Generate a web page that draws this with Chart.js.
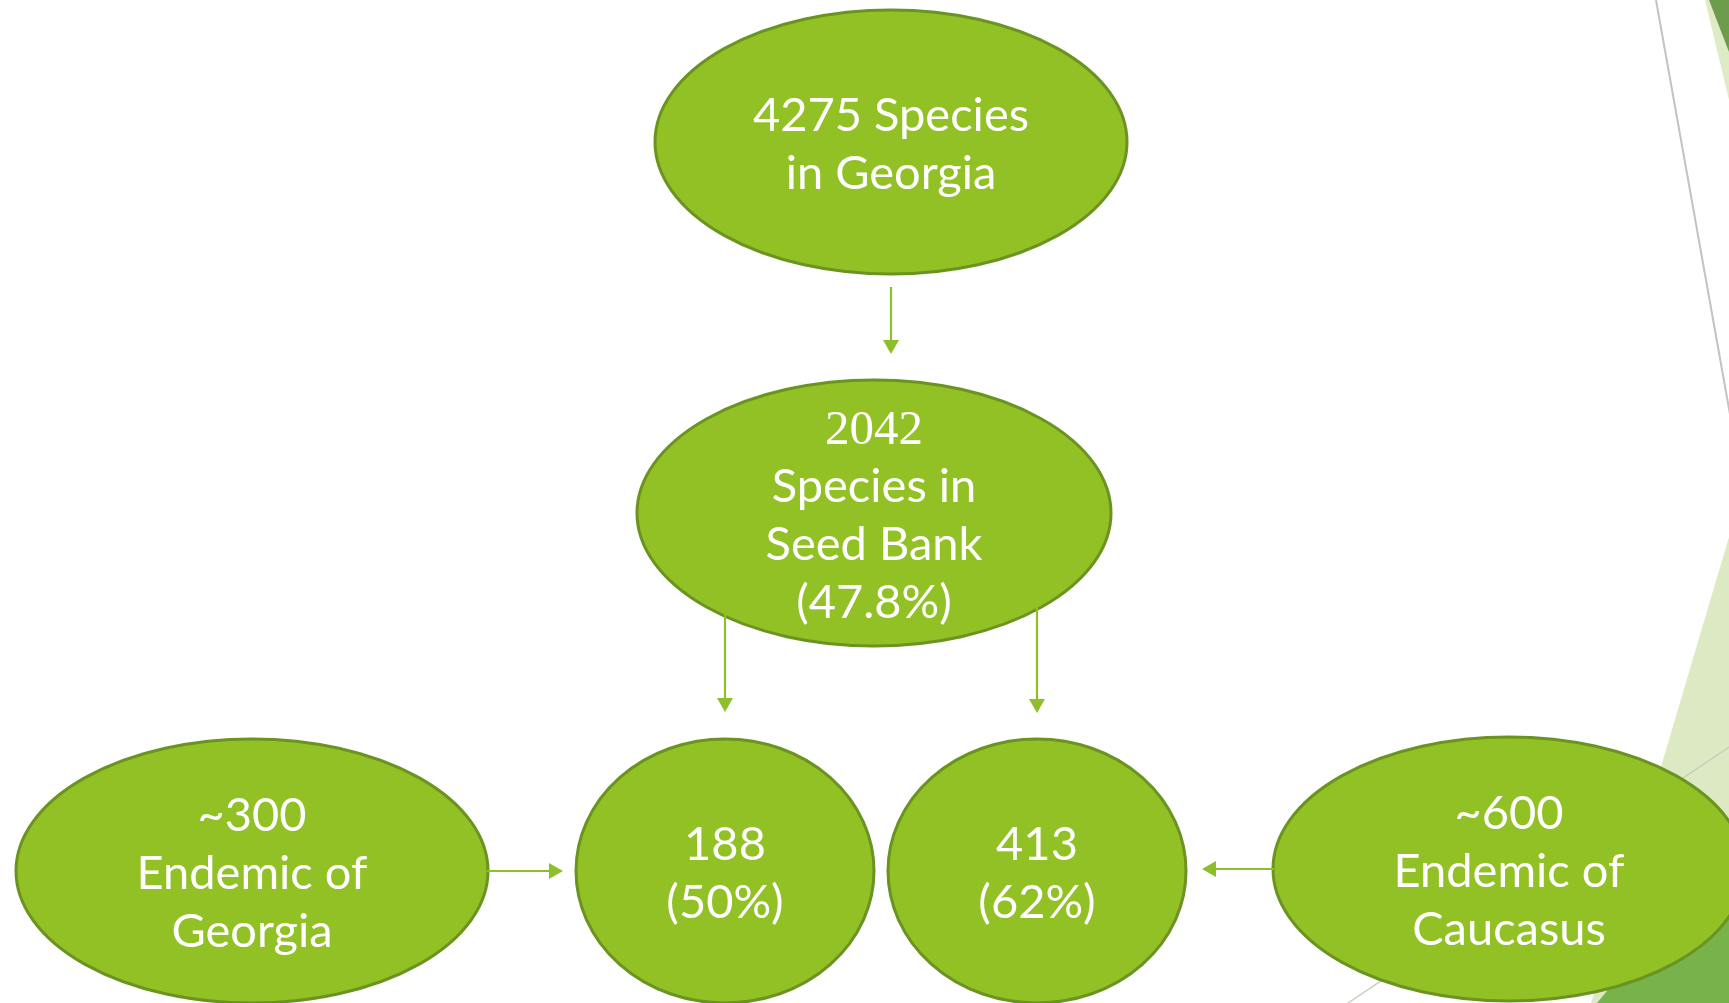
<!DOCTYPE html>
<html><head><meta charset="utf-8">
<script src="https://cdn.jsdelivr.net/npm/chart.js@4.4.1/dist/chart.umd.min.js"></script>
<style>html,body{margin:0;padding:0;background:#fff;overflow:hidden}canvas{display:block}</style>
</head><body>
<canvas id="c" width="1729" height="1003"></canvas>
<script>
// ---- data ----
const nodeNames = ['Species in Georgia','Species in Seed Bank','Endemic of Georgia in Seed Bank','Endemic of Caucasus in Seed Bank','Endemic of Georgia','Endemic of Caucasus'];
const nodeCounts = ['4275','2042','188','413','~300','~600'];
const nodePercents = [null,'47.8%','50%','62%',null,null];
const nodeLines = [
  ['4275 Species','in Georgia'],
  ['2042','Species in','Seed Bank','(47.8%)'],
  ['188','(50%)'],
  ['413','(62%)'],
  ['~300','Endemic of','Georgia'],
  ['~600','Endemic of','Caucasus']
];
const links = [[0,1],[1,2],[1,3],[4,2],[5,3]];

// ---- layout (diagram positions in canvas units) ----
const nodeX = [891,874,725,1037,252,1509];
const nodeY = [142,513,871,871,871,869];
const nodeRX = [236,237,149,149,236,236];
const nodeRY = [132,133,132,132,132,132];
const arrowFrom = [[891,287],[725,612],[1037,606],[487,871],[1274,869]];
const arrowTo   = [[891,354],[725,712],[1037,713],[563,871],[1202,869]];

const W=1729,H=1003;
function px(s,v){return s.getPixelForValue(v);}

const diagramPlugin = {
  id:'diagram',
  beforeDatasetsDraw(chart){
    const ctx=chart.ctx, xs=chart.scales.x, ys=chart.scales.y;
    const poly=(pts,fill)=>{ctx.beginPath();pts.forEach((p,i)=>{const X=px(xs,p[0]),Y=px(ys,p[1]);i?ctx.lineTo(X,Y):ctx.moveTo(X,Y);});ctx.closePath();ctx.fillStyle=fill;ctx.fill();};
    const line=(a,b,col,w)=>{ctx.beginPath();ctx.moveTo(px(xs,a[0]),px(ys,a[1]));ctx.lineTo(px(xs,b[0]),px(ys,b[1]));ctx.strokeStyle=col;ctx.lineWidth=w;ctx.stroke();};
    ctx.save();
    // top right decoration
    poly([[1705,0],[1729,0],[1729,100]],'#dfeac6');
    poly([[1709,0],[1729,0],[1729,52]],'#6c9c4c');
    line([1656,0],[1731,420],'#c3c3c3',2);
    // bottom right decoration
    poly([[1729,537],[1591,1003],[1729,1003]],'#dde9c3');
    poly([[1729,843],[1597,1003],[1729,1003]],'#77b24b');
    line([1729,747],[1348,1003],'#c8cdbd',1.5);
    ctx.restore();
  },
  afterDatasetsDraw(chart){
    const ctx=chart.ctx, xs=chart.scales.x, ys=chart.scales.y;
    const meta=chart.getDatasetMeta(0);
    ctx.save();
    meta.data.forEach((pt,i)=>{
      const rx=Math.abs(px(xs,nodeX[i]+nodeRX[i])-pt.x);
      const ry=Math.abs(px(ys,nodeY[i]+nodeRY[i])-pt.y);
      ctx.beginPath();ctx.ellipse(pt.x,pt.y,rx,ry,0,0,Math.PI*2);
      ctx.fillStyle='#92c125';ctx.fill();
      ctx.lineWidth=3;ctx.strokeStyle='#6a9320';ctx.stroke();
    });
    // arrows
    links.forEach((l,k)=>{
      const a=arrowFrom[k], b=arrowTo[k];
      const x1=px(xs,a[0]),y1=px(ys,a[1]),x2=px(xs,b[0]),y2=px(ys,b[1]);
      const ang=Math.atan2(y2-y1,x2-x1), hl=14, hw=8;
      ctx.strokeStyle='#8dbf2b';ctx.fillStyle='#8dbf2b';ctx.lineWidth=2.2;
      ctx.beginPath();ctx.moveTo(x1,y1);ctx.lineTo(x2-Math.cos(ang)*hl,y2-Math.sin(ang)*hl);ctx.stroke();
      ctx.beginPath();ctx.moveTo(x2,y2);
      ctx.lineTo(x2-Math.cos(ang)*hl-Math.sin(ang)*hw,y2-Math.sin(ang)*hl+Math.cos(ang)*hw);
      ctx.lineTo(x2-Math.cos(ang)*hl+Math.sin(ang)*hw,y2-Math.sin(ang)*hl-Math.cos(ang)*hw);
      ctx.closePath();ctx.fill();
    });
    // text
    ctx.fillStyle='#ffffff';ctx.textAlign='center';ctx.textBaseline='alphabetic';
    meta.data.forEach((pt,i)=>{
      const lines=nodeLines[i], n=lines.length, step=58;
      lines.forEach((t,j)=>{
        const serif = (i===1 && j===0);
        ctx.font = serif ? '49px "Liberation Serif", "DejaVu Serif", serif' : '47px Lato, "Open Sans", sans-serif';
        const y = pt.y + 2 + (j-(n-1)/2)*step + 16;
        ctx.fillText(t, pt.x, y);
      });
    });
    ctx.restore();
  }
};

new Chart(document.getElementById('c'),{
  type:'scatter',
  data:{labels:nodeNames,datasets:[{label:'nodes',data:nodeX.map((x,i)=>({x:x,y:nodeY[i]})),pointRadius:0,pointHoverRadius:0}]},
  options:{
    responsive:false,animation:false,devicePixelRatio:1,
    layout:{padding:0},
    plugins:{legend:{display:false},tooltip:{enabled:false}},
    events:[],
    scales:{
      x:{type:'linear',min:0,max:W,display:false},
      y:{type:'linear',min:0,max:H,reverse:true,display:false}
    }
  },
  plugins:[diagramPlugin]
});
</script>
</body></html>
